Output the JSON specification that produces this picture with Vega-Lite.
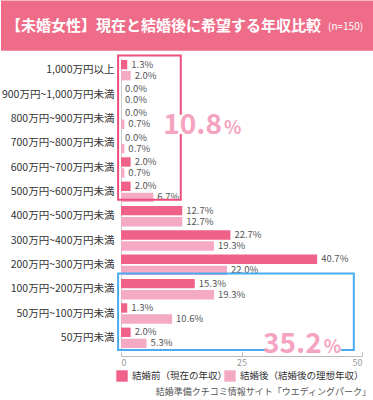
{
  "$schema": "https://vega.github.io/schema/vega-lite/v6.json",
  "padding": 0,
  "background": "white",
  "width": 241,
  "height": 292,
  "config": {
    "font": "Noto Sans CJK JP",
    "view": {"stroke": null}
  },
  "datasets": {
    "income": [
      {"range": "1,000万円以上", "status": "結婚前（現在の年収）", "pct": 1.3},
      {"range": "1,000万円以上", "status": "結婚後（結婚後の理想年収）", "pct": 2.0},
      {"range": "900万円~1,000万円未満", "status": "結婚前（現在の年収）", "pct": 0.0},
      {"range": "900万円~1,000万円未満", "status": "結婚後（結婚後の理想年収）", "pct": 0.0},
      {"range": "800万円~900万円未満", "status": "結婚前（現在の年収）", "pct": 0.0},
      {"range": "800万円~900万円未満", "status": "結婚後（結婚後の理想年収）", "pct": 0.7},
      {"range": "700万円~800万円未満", "status": "結婚前（現在の年収）", "pct": 0.0},
      {"range": "700万円~800万円未満", "status": "結婚後（結婚後の理想年収）", "pct": 0.7},
      {"range": "600万円~700万円未満", "status": "結婚前（現在の年収）", "pct": 2.0},
      {"range": "600万円~700万円未満", "status": "結婚後（結婚後の理想年収）", "pct": 0.7},
      {"range": "500万円~600万円未満", "status": "結婚前（現在の年収）", "pct": 2.0},
      {"range": "500万円~600万円未満", "status": "結婚後（結婚後の理想年収）", "pct": 6.7},
      {"range": "400万円~500万円未満", "status": "結婚前（現在の年収）", "pct": 12.7},
      {"range": "400万円~500万円未満", "status": "結婚後（結婚後の理想年収）", "pct": 12.7},
      {"range": "300万円~400万円未満", "status": "結婚前（現在の年収）", "pct": 22.7},
      {"range": "300万円~400万円未満", "status": "結婚後（結婚後の理想年収）", "pct": 19.3},
      {"range": "200万円~300万円未満", "status": "結婚前（現在の年収）", "pct": 40.7},
      {"range": "200万円~300万円未満", "status": "結婚後（結婚後の理想年収）", "pct": 22.0},
      {"range": "100万円~200万円未満", "status": "結婚前（現在の年収）", "pct": 15.3},
      {"range": "100万円~200万円未満", "status": "結婚後（結婚後の理想年収）", "pct": 19.3},
      {"range": "50万円~100万円未満", "status": "結婚前（現在の年収）", "pct": 1.3},
      {"range": "50万円~100万円未満", "status": "結婚後（結婚後の理想年収）", "pct": 10.6},
      {"range": "50万円未満", "status": "結婚前（現在の年収）", "pct": 2.0},
      {"range": "50万円未満", "status": "結婚後（結婚後の理想年収）", "pct": 5.3}
    ],
    "header": [
      {"t": "【未婚女性】現在と結婚後に希望する年収比較", "n": "(n=150)", "x0": -24.9, "x1": 52.5, "y0": -2.36, "y1": -0.3, "tx": -23.86, "nx": 42.95, "ty": -1.33}
    ],
    "boxes": [
      {"zone": "high", "x0": -0.6, "x1": 12.4, "y0": -0.1, "y1": 5.83},
      {"zone": "low", "x0": -0.6, "x1": 48.3, "y0": 8.86, "y1": 12.0}
    ],
    "masks": [
      {"x0": 10.4, "x1": 24.5, "y0": 2.33, "y1": 3.12},
      {"x0": 30.6, "x1": 45.6, "y0": 11.75, "y1": 12.2}
    ],
    "totals": [
      {"num": "10.8", "pc": "%", "x": 20.95, "y": 3.11},
      {"num": "35.2", "pc": "%", "x": 41.64, "y": 12.14}
    ]
  },
  "title": {
    "text": "結婚準備クチコミ情報サイト「ウエディングパーク」",
    "orient": "bottom",
    "anchor": "end",
    "frame": "bounds",
    "fontSize": 9,
    "fontWeight": "normal",
    "color": "#555555",
    "offset": 6,
    "dx": -3
  },
  "layer": [
    {
      "data": {"name": "income"},
      "transform": [{"calculate": "format(datum.pct, '.1f') + '%'", "as": "label"}],
      "encoding": {
        "y": {
          "field": "range",
          "type": "nominal",
          "sort": ["1,000万円以上", "900万円~1,000万円未満", "800万円~900万円未満", "700万円~800万円未満", "600万円~700万円未満", "500万円~600万円未満", "400万円~500万円未満", "300万円~400万円未満", "200万円~300万円未満", "100万円~200万円未満", "50万円~100万円未満", "50万円未満"],
          "scale": {"paddingInner": 0.16, "paddingOuter": 0.08},
          "axis": {"title": null, "ticks": false, "domainColor": "#cccccc", "labelFontSize": 10.5, "labelColor": "#333333", "labelPadding": 7}
        },
        "yOffset": {
          "field": "status",
          "type": "nominal",
          "sort": ["結婚前（現在の年収）", "結婚後（結婚後の理想年収）"],
          "scale": {"paddingInner": 0.15, "paddingOuter": 0}
        },
        "x": {
          "field": "pct",
          "type": "quantitative",
          "scale": {"domain": [0, 50], "nice": false},
          "axis": {"values": [0, 25, 50], "title": null, "grid": false, "domainColor": "#bbbbbb", "tickColor": "#bbbbbb", "tickSize": -4, "labelColor": "#999999", "labelFontSize": 9, "labelPadding": 6, "offset": 6}
        }
      },
      "layer": [
        {
          "mark": {"type": "bar"},
          "encoding": {
            "color": {
              "field": "status",
              "type": "nominal",
              "scale": {"domain": ["結婚前（現在の年収）", "結婚後（結婚後の理想年収）"], "range": ["#F0618A", "#F4A9C5"]},
              "legend": {"orient": "none", "legendX": -5, "legendY": 312, "direction": "horizontal", "gridAlign": "none", "title": null, "symbolType": "square", "symbolSize": 130, "symbolStrokeWidth": 0, "labelFontSize": 9.5, "labelColor": "#333333", "columnPadding": -4, "labelOffset": 4}
            }
          }
        },
        {
          "mark": {"type": "text", "align": "left", "baseline": "middle", "dx": 4, "fontSize": 9.5, "color": "#555555"},
          "encoding": {"text": {"field": "label"}}
        }
      ]
    },
    {
      "encoding": {
        "x": {"field": "x0", "type": "quantitative", "scale": {"domain": [0, 50], "nice": false}},
        "y": {"field": "y0", "type": "quantitative", "scale": {"domain": [0, 12], "reverse": true, "nice": false, "zero": false}, "axis": null}
      },
      "layer": [
        {
          "data": {"name": "header"},
          "mark": {"type": "rect", "color": "#EE6C87"},
          "encoding": {"x2": {"field": "x1"}, "y2": {"field": "y1"}}
        },
        {
          "data": {"name": "header"},
          "mark": {"type": "text", "align": "left", "baseline": "middle", "fontSize": 15, "fontWeight": "bold", "color": "white"},
          "encoding": {
            "x": {"field": "tx", "type": "quantitative", "scale": {"domain": [0, 50], "nice": false}},
            "y": {"field": "ty", "type": "quantitative", "scale": {"domain": [0, 12], "reverse": true, "nice": false, "zero": false}, "axis": null},
            "text": {"field": "t"}
          }
        },
        {
          "data": {"name": "header"},
          "mark": {"type": "text", "align": "left", "baseline": "middle", "dy": 1, "fontSize": 10, "color": "white"},
          "encoding": {
            "x": {"field": "nx", "type": "quantitative", "scale": {"domain": [0, 50], "nice": false}},
            "y": {"field": "ty", "type": "quantitative", "scale": {"domain": [0, 12], "reverse": true, "nice": false, "zero": false}, "axis": null},
            "text": {"field": "n"}
          }
        },
        {
          "data": {"name": "boxes"},
          "transform": [{"filter": "datum.zone == 'high'"}],
          "mark": {"type": "rect", "filled": false, "color": "#EC4D7D", "strokeWidth": 2},
          "encoding": {"x2": {"field": "x1"}, "y2": {"field": "y1"}}
        },
        {
          "data": {"name": "boxes"},
          "transform": [{"filter": "datum.zone == 'low'"}],
          "mark": {"type": "rect", "filled": false, "color": "#4AABF0", "strokeWidth": 2},
          "encoding": {"x2": {"field": "x1"}, "y2": {"field": "y1"}}
        },
        {
          "data": {"name": "masks"},
          "mark": {"type": "rect", "color": "white"},
          "encoding": {"x2": {"field": "x1"}, "y2": {"field": "y1"}}
        },
        {
          "data": {"name": "totals"},
          "mark": {"type": "text", "align": "right", "baseline": "alphabetic", "fontSize": 28, "fontWeight": "bold", "color": "#F4A3C0"},
          "encoding": {
            "x": {"field": "x", "type": "quantitative", "scale": {"domain": [0, 50], "nice": false}},
            "y": {"field": "y", "type": "quantitative", "scale": {"domain": [0, 12], "reverse": true, "nice": false, "zero": false}, "axis": null},
            "text": {"field": "num"}
          }
        },
        {
          "data": {"name": "totals"},
          "mark": {"type": "text", "align": "left", "baseline": "alphabetic", "dx": 2, "fontSize": 18, "fontWeight": "bold", "color": "#F4A3C0"},
          "encoding": {
            "x": {"field": "x", "type": "quantitative", "scale": {"domain": [0, 50], "nice": false}},
            "y": {"field": "y", "type": "quantitative", "scale": {"domain": [0, 12], "reverse": true, "nice": false, "zero": false}, "axis": null},
            "text": {"field": "pc"}
          }
        }
      ]
    }
  ],
  "resolve": {"scale": {"y": "independent"}, "axis": {"y": "independent"}}
}
